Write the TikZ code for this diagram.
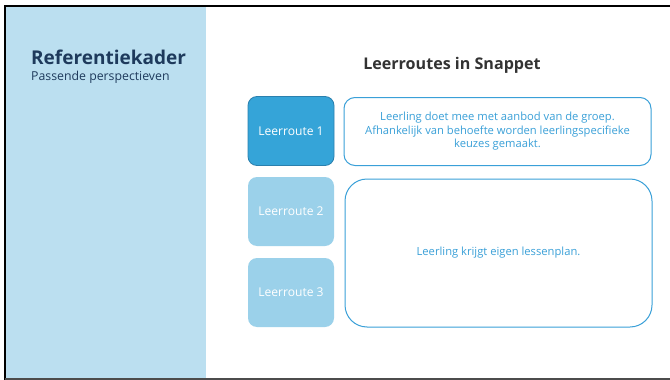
\documentclass[tikz,border=0pt]{standalone}
\usepackage{fontspec}
\setmainfont{Open Sans}
\definecolor{panel}{HTML}{BBDFF0}
\definecolor{dark}{HTML}{1E3A5C}
\definecolor{route1}{HTML}{35A4D8}
\definecolor{route1b}{HTML}{2A80AE}
\definecolor{route2}{HTML}{9BD1EA}
\definecolor{txtblue}{HTML}{3AA0D8}
\definecolor{titlegray}{HTML}{333333}
\tikzset{
  routebox/.style={rounded corners=9pt, minimum width=86pt, minimum height=69pt, text=white, font=\fontsize{12.1}{13}\selectfont, inner sep=0pt},
  descbox/.style={draw=txtblue, line width=1pt, fill=white, text=txtblue, font=\fontsize{11.2}{13.5}\selectfont, align=center, inner sep=0pt}
}
\begin{document}
\begin{tikzpicture}[x=1pt,y=-1pt]
\useasboundingbox (0,0) rectangle (670,380);
\fill[white] (0,0) rectangle (670,380);
\fill[panel] (5,6) rectangle (206,379);
\draw[black, line width=2pt] (5,383) -- (5,6) -- (675,6);
\draw[black!70, line width=2pt] (5,379) -- (675,379);
\node[anchor=west, text=dark, font=\fontsize{19}{22}\bfseries\selectfont, inner sep=0pt] (kader) at (31,57) {Referentiekader};
\node[anchor=west, text=dark, font=\fontsize{12.3}{15}\selectfont, inner sep=0pt] (sub) at (31,77) {Passende perspectieven};
\node[text=titlegray, font=\fontsize{16.1}{18}\bfseries\selectfont, inner sep=0pt] (title) at (452,65) {Leerroutes in Snappet};
\node[routebox, fill=route1, draw=route1b, line width=0.8pt] (r1) at (291,131) {Leerroute 1};
\node[routebox, fill=route2] (r2) at (291,211.5) {Leerroute 2};
\node[routebox, fill=route2] (r3) at (291,292.5) {Leerroute 3};
\node[descbox, rounded corners=11pt, minimum width=307pt, minimum height=68pt] (d1) at (497.5,131.5) {Leerling doet mee met aanbod van de groep.\\Afhankelijk van behoefte worden leerlingspecifieke\\keuzes gemaakt.};
\node[descbox, rounded corners=22pt, minimum width=307pt, minimum height=148pt] (d2) at (498.5,253) {Leerling krijgt eigen lessenplan.};
\end{tikzpicture}
\end{document}
